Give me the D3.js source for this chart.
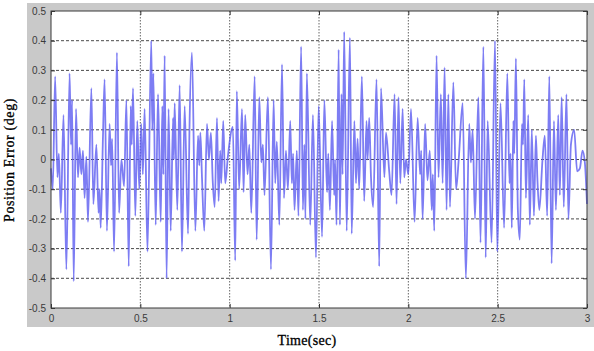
<!DOCTYPE html>
<html>
<head>
<meta charset="utf-8">
<script src="https://cdn.jsdelivr.net/npm/d3@7"></script>
<style>
  body { margin: 0; background: #fff; }
  svg { display: block; }
</style>
</head>
<body>
<svg class="chart"></svg>
<script>
// position error samples (peaks / troughs)
errTime = [
  0.000, 0.010, 0.023, 0.036, 0.044, 0.055, 0.070, 0.086, 0.104, 0.112, 0.118, 0.127, 0.140, 0.151, 0.160, 0.170,
  0.179, 0.188, 0.198, 0.207, 0.226, 0.237, 0.254, 0.266, 0.272, 0.278, 0.291, 0.300, 0.313, 0.328, 0.336, 0.342,
  0.353, 0.369, 0.381, 0.394, 0.409, 0.422, 0.435, 0.446, 0.452, 0.459, 0.472, 0.483, 0.494, 0.505, 0.514, 0.524,
  0.540, 0.561, 0.567, 0.573, 0.586, 0.599, 0.614, 0.623, 0.629, 0.636, 0.647, 0.658, 0.670, 0.683, 0.688, 0.692,
  0.707, 0.720, 0.733, 0.748, 0.767, 0.775, 0.789, 0.808, 0.823, 0.830, 0.836, 0.845, 0.858, 0.873, 0.884, 0.895,
  0.905, 0.916, 0.929, 0.938, 0.947, 0.953, 0.964, 0.975, 0.990, 1.018, 1.031, 1.040, 1.053, 1.069, 1.078, 1.087,
  1.100, 1.110, 1.121, 1.140, 1.151, 1.166, 1.177, 1.186, 1.195, 1.214, 1.231, 1.246, 1.255, 1.264, 1.278, 1.293,
  1.304, 1.315, 1.326, 1.339, 1.348, 1.355, 1.363, 1.376, 1.385, 1.400, 1.410, 1.418, 1.424, 1.432, 1.451, 1.466,
  1.483, 1.498, 1.517, 1.530, 1.545, 1.552, 1.561, 1.573, 1.585, 1.590, 1.598, 1.610, 1.617, 1.626, 1.632, 1.641,
  1.655, 1.673, 1.683, 1.698, 1.707, 1.716, 1.725, 1.740, 1.753, 1.766, 1.772, 1.781, 1.791, 1.803, 1.822, 1.837,
  1.847, 1.866, 1.875, 1.893, 1.906, 1.923, 1.934, 1.945, 1.955, 1.968, 1.977, 1.987, 2.000, 2.015, 2.035, 2.052,
  2.066, 2.072, 2.080, 2.094, 2.107, 2.120, 2.131, 2.137, 2.145, 2.158, 2.169, 2.182, 2.192, 2.203, 2.214, 2.224,
  2.233, 2.252, 2.267, 2.282, 2.304, 2.322, 2.341, 2.350, 2.360, 2.373, 2.392, 2.404, 2.420, 2.433, 2.444, 2.466,
  2.485, 2.498, 2.516, 2.536, 2.554, 2.566, 2.572, 2.579, 2.588, 2.593, 2.602, 2.613, 2.624, 2.636, 2.642, 2.649,
  2.658, 2.671, 2.680, 2.691, 2.703, 2.714, 2.722, 2.733, 2.751, 2.764, 2.777, 2.789, 2.802, 2.815, 2.826, 2.839,
  2.848, 2.858, 2.870, 2.885, 2.896, 2.910, 2.928, 2.945, 2.960, 2.975, 2.988, 3.000
];
errValue = [
  -0.03, -0.10, 0.28, -0.06, 0.02, -0.18, 0.15, -0.37, 0.29, 0.05, 0.20, -0.41, 0.17, -0.06, 0.04, -0.05,
  0.03, -0.13, 0.01, -0.21, 0.24, -0.15, 0.05, -0.18, -0.10, -0.23, 0.08, 0.27, -0.24, 0.12, -0.02, 0.07,
  -0.31, 0.36, -0.18, 0.00, -0.09, 0.20, -0.36, 0.18, 0.05, 0.24, -0.19, 0.13, -0.10, 0.12, -0.05, 0.17,
  -0.31, 0.40, 0.10, 0.29, -0.22, 0.22, -0.21, 0.18, -0.05, 0.35, -0.40, 0.17, -0.24, 0.14, 0.00, 0.19,
  -0.17, 0.25, -0.31, 0.18, -0.25, 0.10, 0.36, -0.24, 0.08, -0.02, 0.09, -0.06, -0.24, 0.12, 0.00, 0.09,
  -0.07, -0.16, 0.14, -0.14, 0.03, -0.08, 0.13, -0.08, 0.01, 0.11, -0.34, 0.23, -0.10, 0.17, -0.11, 0.15,
  -0.05, 0.05, -0.18, 0.28, -0.27, 0.21, -0.01, 0.05, -0.12, 0.21, -0.37, 0.20, -0.08, 0.06, -0.22, 0.32,
  -0.13, 0.03, -0.10, 0.13, -0.08, 0.02, -0.17, 0.03, -0.19, 0.38, -0.17, 0.05, -0.20, 0.29, -0.22, 0.15,
  -0.33, 0.18, -0.26, 0.20, -0.11, 0.02, -0.17, 0.13, -0.12, 0.00, -0.22, 0.37, -0.22, 0.22, -0.05, 0.43,
  -0.24, 0.41, -0.25, 0.13, -0.08, 0.07, -0.10, 0.28, -0.14, 0.13, 0.00, 0.14, -0.06, -0.16, 0.27, -0.36,
  0.24, -0.06, 0.09, -0.04, -0.12, 0.22, -0.15, 0.21, -0.08, 0.17, -0.06, 0.00, -0.05, 0.17, -0.21, 0.14,
  -0.05, 0.03, -0.20, 0.12, -0.07, 0.03, -0.17, -0.05, -0.24, 0.35, -0.06, 0.22, -0.08, 0.31, -0.17, 0.22,
  -0.16, 0.26, -0.10, 0.00, 0.19, -0.40, 0.12, -0.01, 0.10, -0.20, 0.21, -0.28, 0.38, -0.33, 0.13, -0.28,
  0.40, -0.31, 0.19, -0.23, 0.29, -0.08, 0.02, -0.23, 0.13, 0.02, 0.34, -0.17, -0.27, 0.12, 0.05, 0.27,
  -0.13, 0.15, -0.22, 0.10, -0.19, 0.08, -0.06, -0.17, 0.00, 0.08, -0.19, 0.28, -0.35, 0.13, -0.17, 0.15,
  -0.12, 0.21, -0.16, 0.22, -0.20, 0.05, 0.10, -0.04, -0.03, 0.03, -0.01, -0.15
];

X_TICKS = [0, 0.5, 1, 1.5, 2, 2.5, 3];
X_TICK_LABELS = ["0", "0.5", "1", "1.5", "2", "2.5", "3"];
Y_TICKS = [-0.5, -0.4, -0.3, -0.2, -0.1, 0, 0.1, 0.2, 0.3, 0.4, 0.5];
Y_TICK_LABELS = ["-0.5", "-0.4", "-0.3", "-0.2", "-0.1", "0", "0.1", "0.2", "0.3", "0.4", "0.5"];
X_LABEL = "Time(sec)";
Y_LABEL = "Position Error (deg)";

WIDTH = 594;
HEIGHT = 351;
PLOT = {left: 51, top: 11, right: 587, bottom: 308};

svg = d3.select(".chart").attr("width", WIDTH).attr("height", HEIGHT);

// grey figure background
svg.append("rect")
    .attr("x", 27).attr("y", 3)
    .attr("width", WIDTH - 27).attr("height", 324)
    .attr("fill", "#c9c9c9");

x = d3.scaleLinear().domain([0, 3]).range([PLOT.left, PLOT.right]);
y = d3.scaleLinear().domain([-0.5, 0.5]).range([PLOT.bottom, PLOT.top]);

svg.append("rect")
    .attr("x", PLOT.left).attr("y", PLOT.top)
    .attr("width", PLOT.right - PLOT.left).attr("height", PLOT.bottom - PLOT.top)
    .attr("fill", "#fff");

// grid
grid = svg.append("g");
grid.selectAll(".hgrid")
    .data(Y_TICKS.slice(1, -1))
    .enter().append("line")
    .attr("x1", PLOT.left).attr("x2", PLOT.right)
    .attr("y1", function(d) { return y(d); })
    .attr("y2", function(d) { return y(d); })
    .attr("stroke", "#4a4a4a")
    .attr("stroke-dasharray", "3,2");
grid.selectAll(".vgrid")
    .data(X_TICKS.slice(1, -1))
    .enter().append("line")
    .attr("y1", PLOT.top).attr("y2", PLOT.bottom)
    .attr("x1", function(d) { return x(d); })
    .attr("x2", function(d) { return x(d); })
    .attr("stroke", "#666")
    .attr("stroke-dasharray", "1.5,1.5");

// signal
data = errTime.map(function(t, i) { return {t: t, v: errValue[i]}; });
line = d3.line()
    .x(function(d) { return x(d.t); })
    .y(function(d) { return y(d.v); })
    .curve(d3.curveMonotoneX);
svg.append("path")
    .datum(data)
    .attr("fill", "none")
    .attr("stroke", "#5c5cf0")
    .attr("stroke-opacity", 0.8)
    .attr("stroke-width", 1.8)
    .attr("stroke-linejoin", "round")
    .attr("d", line);

// axes (inward ticks, matlab style)
function styleAxis(g) {
    g.select(".domain").remove();
    g.selectAll(".tick line").attr("stroke", "#333");
    g.selectAll(".tick text")
        .attr("fill", "#3a3a3a")
        .style("font-family", "'Liberation Sans', Arial, sans-serif")
        .style("font-size", "10px");
}

svg.append("g")
    .attr("transform", "translate(0," + PLOT.bottom + ")")
    .call(d3.axisBottom(x).tickValues(X_TICKS)
        .tickFormat(function(d, i) { return X_TICK_LABELS[i]; })
        .tickSizeInner(-4).tickSizeOuter(0).tickPadding(7))
    .call(styleAxis);
svg.append("g")
    .attr("transform", "translate(" + PLOT.left + ",0)")
    .call(d3.axisLeft(y).tickValues(Y_TICKS)
        .tickFormat(function(d, i) { return Y_TICK_LABELS[i]; })
        .tickSizeInner(-4).tickSizeOuter(0).tickPadding(5))
    .call(styleAxis);
svg.append("g")
    .attr("transform", "translate(0," + PLOT.top + ")")
    .call(d3.axisTop(x).tickValues(X_TICKS).tickFormat("")
        .tickSizeInner(-4).tickSizeOuter(0))
    .call(styleAxis);
svg.append("g")
    .attr("transform", "translate(" + PLOT.right + ",0)")
    .call(d3.axisRight(y).tickValues(Y_TICKS).tickFormat("")
        .tickSizeInner(-4).tickSizeOuter(0))
    .call(styleAxis);

// frame
svg.append("rect")
    .attr("x", PLOT.left).attr("y", PLOT.top)
    .attr("width", PLOT.right - PLOT.left).attr("height", PLOT.bottom - PLOT.top)
    .attr("fill", "none")
    .attr("stroke", "#3a3a3a");

// labels
svg.append("text")
    .attr("x", 307)
    .attr("y", 345)
    .attr("text-anchor", "middle")
    .style("font-family", "'Liberation Serif', 'Times New Roman', serif")
    .style("font-size", "14px")
    .style("letter-spacing", "0.3px")
    .attr("fill", "#000")
    .attr("stroke", "#000")
    .attr("stroke-width", 0.3)
    .text(X_LABEL);
svg.append("text")
    .attr("transform", "translate(14,160) rotate(-90)")
    .attr("text-anchor", "middle")
    .style("font-family", "'Liberation Serif', 'Times New Roman', serif")
    .style("font-size", "14px")
    .style("letter-spacing", "0.6px")
    .attr("fill", "#000")
    .attr("stroke", "#000")
    .attr("stroke-width", 0.3)
    .text(Y_LABEL);
</script>
</body>
</html>
